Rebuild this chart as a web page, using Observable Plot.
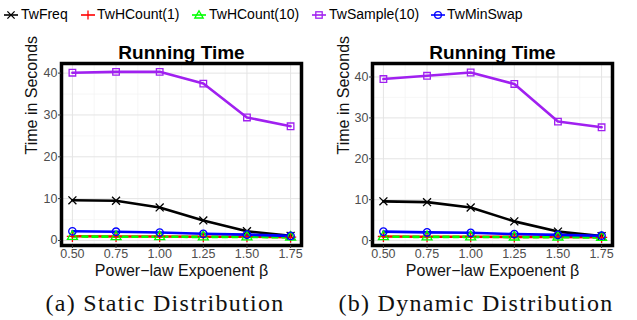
<!DOCTYPE html>
<html><head><meta charset="utf-8">
<script src="https://cdn.jsdelivr.net/npm/d3@7"></script>
<script src="https://cdn.jsdelivr.net/npm/@observablehq/plot@0.6"></script>
<style>
body{margin:0;background:#fff;}
#wrap{position:relative;width:637px;height:320px;overflow:hidden;background:#fff;font-family:"Liberation Sans",Arial,sans-serif;}
.panel{position:absolute;top:35px;}
.cap{position:absolute;top:291px;line-height:24px;font-family:"Liberation Serif",serif;font-size:24px;letter-spacing:1.3px;white-space:nowrap;transform:translateX(-50%);color:#111;}
.leg{position:absolute;top:7px;height:15px;font-size:14px;line-height:14px;white-space:nowrap;color:#000;}
</style></head><body><div id="wrap"></div><script>
// ---- data ----
const betas = [0.5, 0.75, 1.0, 1.25, 1.5, 1.75];
const seriesNames = ["TwFreq", "TwHCount(1)", "TwHCount(10)", "TwSample(10)", "TwMinSwap"];
const seriesColors = ["#000000", "#ff0000", "#00ff00", "#a020f0", "#0000ff"];
const seriesSymbols = ["times", "plus", "triangle", "square", "circle"];
const yTicks = [0, 10, 20, 30, 40];
const xTickLabels = ["0.50", "0.75", "1.00", "1.25", "1.50", "1.75"];

// Static distribution (seconds)
const staticTwFreq = [9.6, 9.5, 7.9, 4.8, 2.2, 1.1];
const staticTwHCount1 = [1.0, 0.95, 0.95, 0.9, 0.9, 0.8];
const staticTwHCount10 = [0.95, 0.9, 0.9, 0.85, 0.85, 0.75];
const staticTwSample10 = [40.1, 40.3, 40.3, 37.5, 29.4, 27.3];
const staticTwMinSwap = [2.2, 2.1, 1.9, 1.6, 1.4, 1.1];

// Dynamic distribution (seconds)
const dynamicTwFreq = [9.6, 9.4, 8.1, 4.7, 2.2, 1.1];
const dynamicTwHCount1 = [1.0, 0.95, 0.95, 0.9, 0.9, 0.8];
const dynamicTwHCount10 = [0.95, 0.9, 0.9, 0.85, 0.85, 0.75];
const dynamicTwSample10 = [39.5, 40.3, 41.1, 38.3, 29.1, 27.7];
const dynamicTwMinSwap = [2.2, 2.0, 1.9, 1.6, 1.4, 1.2];

const wrap = document.getElementById("wrap");

function makePanel(values, cfg) {
  const rows = seriesNames.flatMap((name, i) => betas.map((b, j) => ({beta: b, time: values[i][j], series: name, idx: i})));
  const minorX = d3.range(0.625, 1.75, 0.25);
  const minorY = [5, 15, 25, 35];
  const lineMarks = seriesNames.map((name, i) => Plot.line(rows.filter(d => d.series === name), {
    x: "beta", y: "time", stroke: seriesColors[i], strokeWidth: 2.6,
    strokeDasharray: i === 2 ? "5,5" : null, curve: "linear"
  }));
  const dotMarks = seriesNames.map((name, i) => Plot.dot(rows.filter(d => d.series === name), {
    x: "beta", y: "time", stroke: seriesColors[i], symbol: () => seriesSymbols[i], r: 3.7, strokeWidth: 1.3, fill: "none"
  }));
  const svg = Plot.plot({
    width: cfg.width, height: 255,
    marginLeft: cfg.marginLeft, marginRight: cfg.marginRight, marginTop: 28, marginBottom: 45,
    style: {fontFamily: "Liberation Sans, Arial, sans-serif", fontSize: "12.5px", color: "#4d4d4d", background: "white", overflow: "visible"},
    x: {domain: [0.4375, 1.8125]},
    y: {domain: cfg.yDomain},
    symbol: {type: "identity"},
    marks: [
      Plot.gridX(minorX, {stroke: "#f3f3f3", strokeOpacity: 1, strokeWidth: 0.7}),
      Plot.gridY(minorY, {stroke: "#f3f3f3", strokeOpacity: 1, strokeWidth: 0.7}),
      Plot.gridX(betas, {stroke: "#e4e4e4", strokeOpacity: 1, strokeWidth: 1}),
      Plot.gridY(yTicks, {stroke: "#e4e4e4", strokeOpacity: 1, strokeWidth: 1}),
      ...lineMarks,
      ...dotMarks,
      Plot.frame({stroke: "black", strokeWidth: 3.5}),
      Plot.axisX(betas, {tickFormat: (d, i) => xTickLabels[i], tickSize: 3, tickPadding: 1, stroke: "#333", fill: "#4d4d4d", label: null}),
      Plot.axisY(yTicks, {tickSize: 3, tickPadding: 1, stroke: "#333", fill: "#4d4d4d", label: null}),
      Plot.text(["Running Time"], {frameAnchor: "top", dy: -5, lineAnchor: "bottom", fontWeight: "bold", fontSize: 19, fill: "#000"}),
      Plot.text(["Power\u2212law Expoenent \u03b2"], {frameAnchor: "bottom", dy: 25, lineAnchor: "middle", fontSize: 16, fill: "#111"}),
      Plot.text(["Time in Seconds"], {frameAnchor: "left", dx: cfg.yLabelDx, rotate: -90, lineAnchor: "middle", fontSize: 16, fill: "#111"})
    ]
  });
  svg.classList.add("panel");
  svg.style.left = cfg.left + "px";
  wrap.appendChild(svg);
  const cap = document.createElement("div");
  cap.className = "cap";
  cap.style.left = cfg.capCenter + "px";
  cap.textContent = cfg.caption;
  wrap.appendChild(cap);
}

makePanel([staticTwFreq, staticTwHCount1, staticTwHCount10, staticTwSample10, staticTwMinSwap],
  {width: 318, left: 0, marginLeft: 61, marginRight: 17, yDomain: [-1.2, 42.3], yLabelDx: -30, caption: "(a) Static Distribution", capCenter: 165});
makePanel([dynamicTwFreq, dynamicTwHCount1, dynamicTwHCount10, dynamicTwSample10, dynamicTwMinSwap],
  {width: 319, left: 318, marginLeft: 54, marginRight: 25, yDomain: [-1.2, 43.3], yLabelDx: -28.5, caption: "(b) Dynamic Distribution", capCenter: 476});

// ---- legend ----
const legSymX = [4, 81, 192, 312, 431];
const legTextX = [21, 97, 209, 329, 447];
function symPath(sym) {
  const c = 7, s = 3.6;
  if (sym === "times") return `<path d="M${c-s},${7-s}L${c+s},${7+s}M${c-s},${7+s}L${c+s},${7-s}" />`;
  if (sym === "plus") return `<path d="M${c},${7-s-0.8}L${c},${7+s+0.8}" />`;
  if (sym === "triangle") return `<path d="M${c},${7-4.2}L${c+4.2},${7+3}L${c-4.2},${7+3}Z" fill="none"/>`;
  if (sym === "square") return `<rect x="${c-3.2}" y="${7-3.2}" width="6.4" height="6.4" fill="none"/>`;
  return `<circle cx="${c}" cy="7" r="3.4" fill="none"/>`;
}
seriesNames.forEach((name, i) => {
  const s = document.createElement("div");
  s.className = "leg";
  s.style.left = legSymX[i] + "px";
  s.style.top = "8px";
  s.innerHTML = `<svg width="15" height="14" style="display:block"><g stroke="${seriesColors[i]}" stroke-width="1.3" fill="none"><path d="M0,7H14" stroke-width="1.6"/>${symPath(seriesSymbols[i])}</g></svg>`;
  wrap.appendChild(s);
  const t = document.createElement("div");
  t.className = "leg";
  t.style.left = legTextX[i] + "px";
  t.textContent = name;
  wrap.appendChild(t);
});
</script></body></html>
